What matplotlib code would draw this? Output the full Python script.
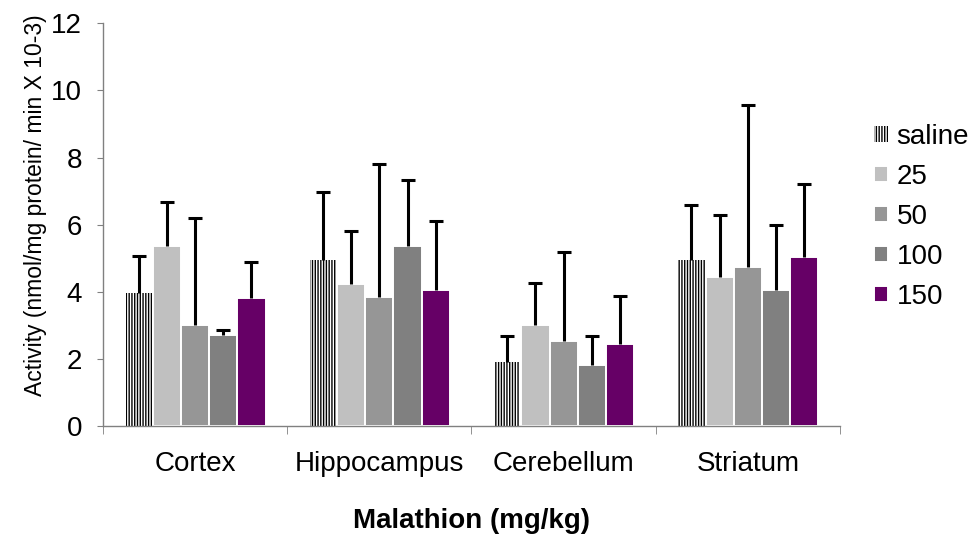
import numpy as np
import matplotlib
matplotlib.use('Agg')
import matplotlib.pyplot as plt

plt.rcParams['font.family'] = ['Liberation Sans', 'DejaVu Sans']
plt.rcParams['hatch.linewidth'] = 1.0

# data
regions = ['Cortex', 'Hippocampus', 'Cerebellum', 'Striatum']
doses = ['saline', '25', '50', '100', '150']
means = {
    'saline': [3.95, 4.95, 1.92, 4.95],
    '25':     [5.35, 4.22, 3.02, 4.43],
    '50':     [3.02, 3.83, 2.52, 4.73],
    '100':    [2.72, 5.35, 1.82, 4.04],
    '150':    [3.82, 4.05, 2.43, 5.05],
}
# top of the (upper only) error bar
err_top = {
    'saline': [5.08, 6.98, 2.68, 6.60],
    '25':     [6.68, 5.80, 4.26, 6.28],
    '50':     [6.20, 7.80, 5.20, 9.58],
    '100':    [2.87, 7.32, 2.68, 5.98],
    '150':    [4.88, 6.10, 3.87, 7.20],
}
colors = {'saline': 'white', '25': '#c0c0c0', '50': '#969696',
          '100': '#808080', '150': '#660066'}

fig = plt.figure(figsize=(9.79, 5.35), dpi=100)
ax = fig.add_axes([0.1052, 0.2037, 0.7528, 0.7527])

x = np.arange(len(regions))
pitch = 0.153
for i, d in enumerate(doses):
    pos = x + (i - 2) * pitch
    m = np.array(means[d])
    up = np.array(err_top[d]) - m
    if d == 'saline':
        ax.bar(pos, m, width=pitch * 0.93, color='white', edgecolor='black',
               linewidth=0, hatch='||||||', label=d, zorder=2)
    else:
        ax.bar(pos, m, width=pitch, color=colors[d], edgecolor='white',
               linewidth=1.4, label=d, zorder=2)
    eb = ax.errorbar(pos, m, yerr=[np.zeros_like(up), up], fmt='none',
                     ecolor='black', elinewidth=2.2, capsize=5.2,
                     capthick=2.2, zorder=3)
    # only the upper cap is shown
    eb[1][0].set_visible(False)

ax.set_xlim(-0.5, len(regions) - 0.5)
ax.set_ylim(0, 12)
ax.set_yticks(np.arange(0, 13, 2))
ax.set_xticks(x)
ax.set_xticklabels(regions)
ax.set_xticks(np.arange(-0.5, len(regions), 1), minor=True)

for s in ['top', 'right']:
    ax.spines[s].set_visible(False)
for s in ['left', 'bottom']:
    ax.spines[s].set_color('#808080')
    ax.spines[s].set_linewidth(1.0)

ax.tick_params(axis='y', direction='out', length=4, color='#808080',
               labelsize=20, pad=11)
ax.tick_params(axis='x', which='major', length=0, labelsize=20, pad=18)
ax.tick_params(axis='x', which='minor', length=6, color='#808080',
               direction='out')

ax.set_ylabel('Activity (nmol/mg protein/ min X 10-3)', fontsize=16.5)
ax.yaxis.set_label_coords(-0.076, 0.549)
ax.set_xlabel('Malathion (mg/kg)', fontsize=20, fontweight='bold',
              labelpad=22)

leg = ax.legend(loc='upper left', bbox_to_anchor=(0.893, 0.768),
                bbox_transform=fig.transFigure, frameon=False, fontsize=20,
                handlelength=0.5, handleheight=0.5, handletextpad=0.3,
                labelspacing=0.5, borderpad=0, borderaxespad=0)

fig.savefig('out.png', dpi=100)
